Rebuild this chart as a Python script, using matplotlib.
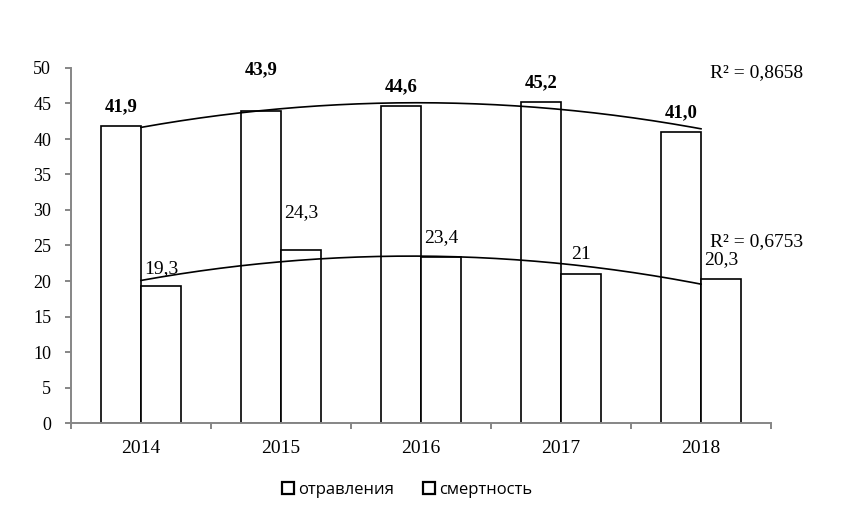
import numpy as np
import matplotlib.pyplot as plt
from matplotlib.patches import Patch
from matplotlib.ticker import FixedLocator

years = ["2014", "2015", "2016", "2017", "2018"]
poisoning = [41.9, 43.9, 44.6, 45.2, 41.0]
mortality = [19.3, 24.3, 23.4, 21.0, 20.3]
poisoning_labels = ["41,9", "43,9", "44,6", "45,2", "41,0"]
mortality_labels = ["19,3", "24,3", "23,4", "21", "20,3"]
r2_labels = ["R² = 0,8658", "R² = 0,6753"]
legend_names = ["отравления", "смертность"]

# label heights (data units)
poisoning_label_y = [44.5, 49.7, 47.3, 47.9, 43.7]
mortality_label_y = [21.8, 29.6, 26.1, 23.7, 23.0]

serif = "Liberation Serif"
axis_grey = "#868686"

fig = plt.figure(figsize=(8.45, 5.11), dpi=100)
ax = fig.add_axes([71 / 845, 1 - 423 / 511, 700 / 845, 355 / 511])

x = np.arange(len(years))
w = 40 / 140
ax.bar(x - w / 2, poisoning, w, color="white", edgecolor="black", linewidth=1.2, zorder=2)
ax.bar(x + w / 2, mortality, w, color="white", edgecolor="black", linewidth=1.2, zorder=2)

# order-2 polynomial trendlines, as in the original spreadsheet chart
xs = np.linspace(0, 4, 200)
for series in (poisoning, mortality):
    coef = np.polyfit(x, series, 2)
    ax.plot(xs, np.polyval(coef, xs), color="black", linewidth=1.2, zorder=3)

for i in range(len(years)):
    ax.text(x[i] - w / 2, poisoning_label_y[i], poisoning_labels[i], ha="center", va="center",
            fontsize=13.5, fontweight="bold", family=serif)
    ax.text(x[i] + w / 2, mortality_label_y[i], mortality_labels[i], ha="center", va="center",
            fontsize=14, family=serif)

ax.text(4.4, 49.4, r2_labels[0], ha="center", va="center", fontsize=14, family=serif)
ax.text(4.4, 25.5, r2_labels[1], ha="center", va="center", fontsize=14, family=serif)

ax.set_xlim(-0.5, 4.5)
ax.set_ylim(0, 50)
ax.set_yticks(range(0, 51, 5))
ax.set_xticks(x)
ax.set_xticklabels(years)
ax.xaxis.set_minor_locator(FixedLocator(np.arange(-0.5, 5, 1)))

for side in ("top", "right"):
    ax.spines[side].set_visible(False)
for side in ("left", "bottom"):
    ax.spines[side].set_color(axis_grey)
    ax.spines[side].set_linewidth(1.4)

ax.tick_params(axis="x", which="major", length=0, pad=12)
ax.tick_params(axis="x", which="minor", length=4.3, width=1.4, color=axis_grey)
ax.tick_params(axis="y", length=4.3, width=1.4, color=axis_grey, pad=10)
for lbl in ax.get_xticklabels():
    lbl.set_family(serif)
    lbl.set_fontsize(14)
for lbl in ax.get_yticklabels():
    lbl.set_family(serif)
    lbl.set_fontsize(13)

handles = [Patch(facecolor="white", edgecolor="black", linewidth=1.6) for _ in legend_names]
fig.legend(handles, legend_names, loc="center", bbox_to_anchor=(407 / 845, 1 - 490 / 511),
           ncol=2, frameon=False, handlelength=0.75, handleheight=0.75, handletextpad=0.25,
           columnspacing=1.7, prop={"family": "Open Sans", "size": 12})

fig.savefig("out.png", dpi=100)
